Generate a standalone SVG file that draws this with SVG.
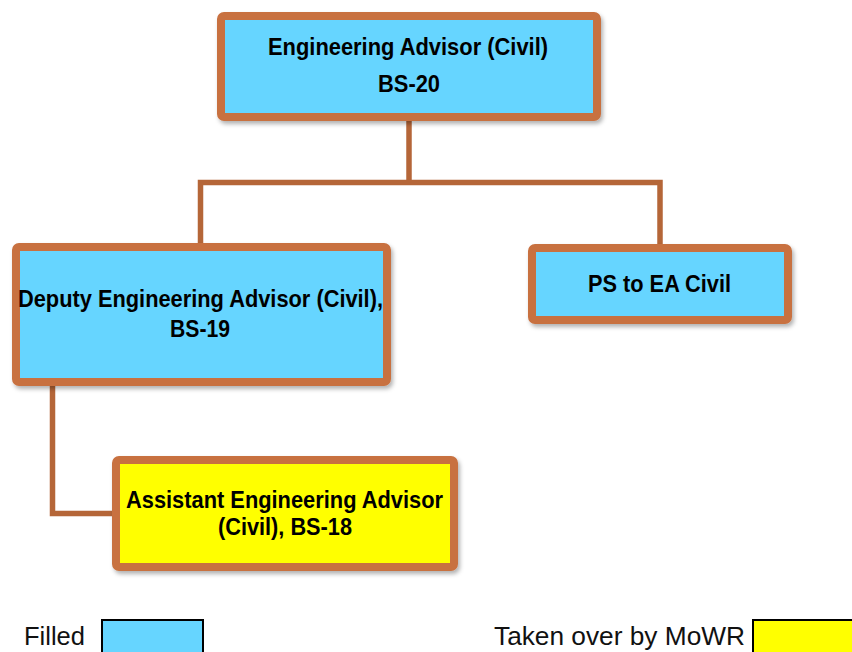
<svg xmlns="http://www.w3.org/2000/svg" width="852" height="652" viewBox="0 0 852 652">
<style>
.box{stroke:#C87140;stroke-width:8;filter:url(#sh)}
.blue{fill:#66D5FF}
.yellow{fill:#FFFF00}
.t{font-family:"Liberation Sans",Arial,sans-serif;font-weight:bold;font-size:24px;fill:#000;text-anchor:middle}
.lg{font-family:"Liberation Sans",Arial,sans-serif;font-size:25px;fill:#111}
.conn{fill:none;stroke:#B56638;stroke-width:5.5;stroke-linejoin:miter}
</style>
<defs>
<filter id="sh" x="-10%" y="-10%" width="120%" height="130%">
<feDropShadow dx="2" dy="3" stdDeviation="2" flood-color="#000" flood-opacity="0.3"/>
</filter>
</defs>
<g id="connectors">
<path class="conn" d="M409 121 V182.5"/>
<path class="conn" d="M200.5 243 V182.5 H660 V244"/>
<path class="conn" d="M52.5 386 V513.5 H112"/>
</g>
<g id="ea">
<rect class="box blue" x="221" y="16" width="376" height="101" rx="3"/>
<text class="t" x="408" y="55" textLength="280" lengthAdjust="spacingAndGlyphs">Engineering Advisor (Civil)</text>
<text class="t" x="409" y="92" textLength="62" lengthAdjust="spacingAndGlyphs">BS-20</text>
</g>
<g id="dea">
<rect class="box blue" x="16" y="247" width="371" height="135" rx="3"/>
<text class="t" x="200.5" y="307" textLength="365" lengthAdjust="spacingAndGlyphs">Deputy Engineering Advisor (Civil),</text>
<text class="t" x="200" y="337" textLength="60" lengthAdjust="spacingAndGlyphs">BS-19</text>
</g>
<g id="ps">
<rect class="box blue" x="532" y="248" width="256" height="72" rx="3"/>
<text class="t" x="659.5" y="292" textLength="143" lengthAdjust="spacingAndGlyphs">PS to EA Civil</text>
</g>
<g id="aea">
<rect class="box yellow" x="116" y="460" width="338" height="107" rx="3"/>
<text class="t" x="284.5" y="508" textLength="317" lengthAdjust="spacingAndGlyphs">Assistant Engineering Advisor</text>
<text class="t" x="285" y="535" textLength="134" lengthAdjust="spacingAndGlyphs">(Civil), BS-18</text>
</g>
<g id="legend">
<text class="lg" x="24" y="645" textLength="61" lengthAdjust="spacingAndGlyphs">Filled</text>
<rect x="102" y="620" width="101" height="40" fill="#66D5FF" stroke="#000" stroke-width="2"/>
<text class="lg" x="494" y="645" textLength="251" lengthAdjust="spacingAndGlyphs">Taken over by MoWR</text>
<rect x="753" y="620" width="110" height="40" fill="#FFFF00" stroke="#000" stroke-width="2"/>
</g>
</svg>
